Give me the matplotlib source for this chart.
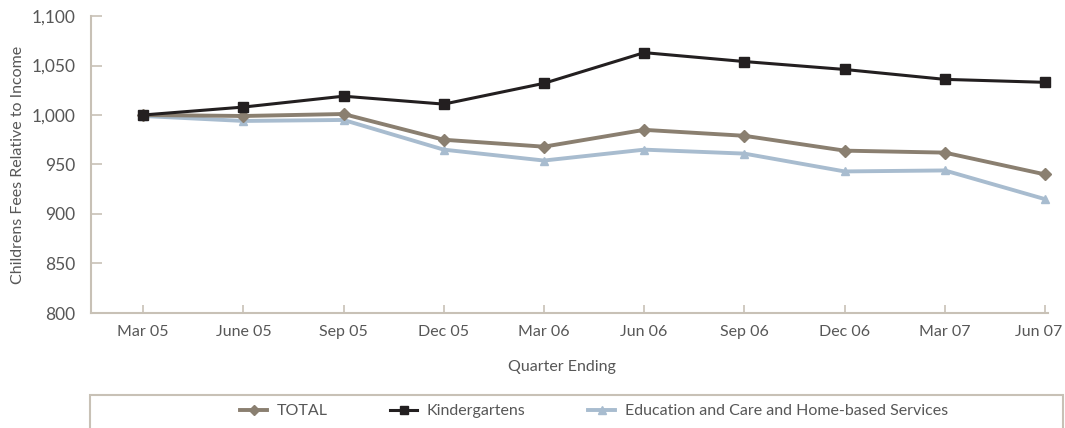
import matplotlib
matplotlib.use("Agg")
import matplotlib.pyplot as plt
from matplotlib.patches import Rectangle
from matplotlib.transforms import ScaledTranslation

plt.rcParams['font.family'] = ['Lato', 'DejaVu Sans']

quarters = ["Mar 05", "June 05", "Sep 05", "Dec 05", "Mar 06",
            "Jun 06", "Sep 06", "Dec 06", "Mar 07", "Jun 07"]
total = [1000, 999, 1001, 975, 968, 985, 979, 964, 962, 940]
kindergartens = [1000, 1008, 1019, 1011, 1032, 1063, 1054, 1046, 1036, 1033]
education_care = [999, 994, 995, 965, 954, 965, 961, 943, 944, 915]
y_ticks = [800, 850, 900, 950, 1000, 1050, 1100]

text_col = "#575757"
axis_col = "#c8c1b6"

fig = plt.figure(figsize=(10.65, 4.28), dpi=100)
ax = fig.add_axes([91 / 1065, 115 / 428, (1048 - 91) / 1065, 297 / 428])

x = list(range(len(quarters)))
l_total, = ax.plot(x, total, color="#8a7f70", lw=2.8, marker="D", ms=6.5,
                   clip_on=False, zorder=3, label="TOTAL")
l_kind, = ax.plot(x, kindergartens, color="#231f20", lw=2.2, marker="s", ms=7,
                  clip_on=False, zorder=4, label="Kindergartens")
l_edu, = ax.plot(x, education_care, color="#a8bccf", lw=2.8, marker="^", ms=6,
                 clip_on=False, zorder=2,
                 label="Education and Care and Home-based Services")

ax.set_xlim(-0.52, 9.03)
ax.set_ylim(800, 1100)
ax.set_yticks(y_ticks)
ax.set_yticklabels([f"{v:,}" for v in y_ticks])
ax.set_xticks(x)
ax.set_xticklabels(quarters)

for s in ["top", "right"]:
    ax.spines[s].set_visible(False)
for s in ["left", "bottom"]:
    ax.spines[s].set_color(axis_col)
    ax.spines[s].set_linewidth(1.5)

ax.tick_params(axis="y", direction="in", length=8, width=1.2, color=axis_col,
               labelsize=12.5, labelcolor=text_col, pad=11)
ax.tick_params(axis="x", direction="in", length=6, width=1.2, color=axis_col,
               labelsize=11.5, labelcolor=text_col, pad=8.5)

# keep the last category label inside the figure edge
last = ax.get_xticklabels()[-1]
last.set_transform(last.get_transform() + ScaledTranslation(-6 / 100, 0, fig.dpi_scale_trans))

fig.text(18 / 1065, 1 - 165 / 428, "Childrens Fees Relative to Income",
         rotation=90, ha="center", va="center", fontsize=11.5, color=text_col)
fig.text(562 / 1065, 1 - 367 / 428, "Quarter Ending", ha="center", va="center",
         fontsize=11.5, color=text_col)

fig.patches.append(Rectangle((90 / 1065, -0.05), (1063 - 90) / 1065, 0.05 + 33 / 428,
                             transform=fig.transFigure, fill=False,
                             edgecolor=axis_col, lw=1.5))
fig.legend(handles=[l_total, l_kind, l_edu], loc="center",
           bbox_to_anchor=(594 / 1065, 1 - 411 / 428), ncol=3, frameon=False,
           fontsize=11.5, labelcolor=text_col, handlelength=1.7,
           columnspacing=3.9, handletextpad=0.6, markerscale=0.85)

fig.savefig("out.png", dpi=100)
